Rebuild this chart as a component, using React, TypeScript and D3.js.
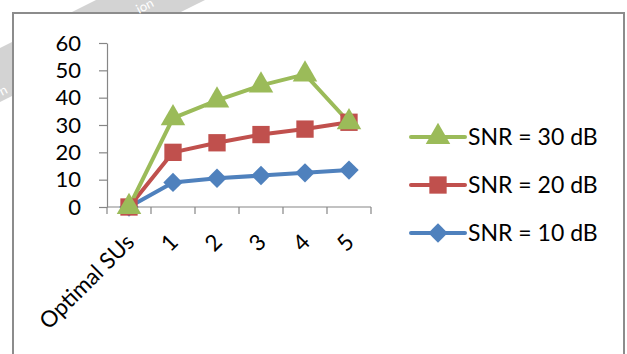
import { useEffect, useRef } from 'react'
import * as d3 from 'd3'

const categories = ['Optimal SUs', '1', '2', '3', '4', '5']
const snr30 = [0, 32.5, 39, 44.5, 48.5, 31]
const snr20 = [0, 20, 23.5, 26.5, 28.5, 31]
const snr10 = [0, 9, 10.5, 11.5, 12.5, 13.5]
const yTicks = [0, 10, 20, 30, 40, 50, 60]

const seriesList = [
  { name: 'SNR = 30 dB', values: snr30, color: '#9BBB59', marker: 'triangle' },
  { name: 'SNR = 20 dB', values: snr20, color: '#C0504D', marker: 'square' },
  { name: 'SNR = 10 dB', values: snr10, color: '#4F81BD', marker: 'diamond' },
]

const FONT = 'Lato, "Open Sans", sans-serif'

function markerPath(kind: string) {
  if (kind === 'triangle') return d3.symbol(d3.symbolTriangle, 260)()
  if (kind === 'square') return d3.symbol(d3.symbolSquare, 300)()
  return d3.symbol(d3.symbolDiamond2, 240)()
}

export default function App() {
  const svgRef = useRef<SVGSVGElement>(null)

  useEffect(() => {
    if (!svgRef.current) return
    const svg = d3.select(svgRef.current)
    svg.selectAll('*').remove()

    // watermark band behind the chart frame
    svg.append('polygon')
      .attr('points', '0,48 96,0 205,0 0,102')
      .attr('fill', '#d3d3d3')

    // chart frame
    svg.append('rect')
      .attr('x', 13).attr('y', 13)
      .attr('width', 611).attr('height', 360)
      .attr('fill', '#fff')
      .attr('stroke', '#8c8c8c')
      .attr('stroke-width', 2)

    // bits of watermark text peeking out around the frame
    svg.append('text')
      .attr('transform', 'translate(139,14) rotate(-27)')
      .attr('fill', '#fff')
      .style('font-family', FONT)
      .style('font-size', '13px')
      .text('ion')
    svg.append('text')
      .attr('transform', 'translate(2,96) rotate(-27)')
      .attr('fill', '#fff')
      .style('font-family', FONT)
      .style('font-size', '13px')
      .text('n')

    const x = d3.scaleBand().domain(categories).range([107, 371]).padding(0)
    const y = d3.scaleLinear().domain([0, 60]).range([207, 43])
    const cx = (c: string) => (x(c) as number) + x.bandwidth() / 2

    // y axis
    const yAxis = svg.append('g')
      .attr('transform', 'translate(107,0)')
      .call(d3.axisLeft(y).tickValues(yTicks).tickSize(8).tickSizeOuter(0).tickPadding(18))
    yAxis.select('.domain').attr('stroke', '#868686').attr('stroke-width', 1.2)
    yAxis.selectAll('.tick line').attr('stroke', '#868686').attr('stroke-width', 1.2)
    yAxis.selectAll('.tick text')
      .attr('fill', '#000')
      .style('font-family', FONT)
      .style('font-size', '22px')

    // x axis line and ticks at category boundaries
    const bounds = [...categories.map(c => x(c) as number), 371]
    const xg = svg.append('g')
    xg.append('line')
      .attr('x1', 107).attr('x2', 371)
      .attr('y1', y(0)).attr('y2', y(0))
      .attr('stroke', '#868686').attr('stroke-width', 1.2)
    xg.selectAll('.xt').data(bounds).enter().append('line')
      .attr('x1', d => d).attr('x2', d => d)
      .attr('y1', y(0)).attr('y2', y(0) + 7)
      .attr('stroke', '#868686').attr('stroke-width', 1.2)
    xg.selectAll('.xl').data(categories).enter().append('text')
      .attr('transform', d => `translate(${cx(d) + 1},${y(0) + 31}) rotate(-45)`)
      .attr('text-anchor', 'end')
      .attr('dy', '0.35em')
      .attr('fill', '#000')
      .style('font-family', FONT)
      .style('font-size', '22.5px')
      .text(d => d)

    // series lines and markers, blue first so green sits on top
    const line = d3.line<number>()
      .x((d, i) => cx(categories[i]))
      .y(d => y(d))
    const drawOrder = [...seriesList].reverse()
    drawOrder.forEach(s => {
      svg.append('path')
        .datum(s.values)
        .attr('d', line)
        .attr('fill', 'none')
        .attr('stroke', s.color)
        .attr('stroke-width', 4)
        .attr('stroke-linejoin', 'round')
    })
    drawOrder.forEach(s => {
      svg.selectAll(null)
        .data(s.values)
        .enter().append('path')
        .attr('d', markerPath(s.marker))
        .attr('transform', (d, i) => `translate(${cx(categories[i])},${y(d)})`)
        .attr('fill', s.color)
    })

    // legend
    const legend = svg.append('g')
    seriesList.forEach((s, i) => {
      const ly = 137 + i * 48
      legend.append('line')
        .attr('x1', 411).attr('x2', 465)
        .attr('y1', ly).attr('y2', ly)
        .attr('stroke', s.color)
        .attr('stroke-width', 4)
        .attr('stroke-linecap', 'round')
      legend.append('path')
        .attr('d', markerPath(s.marker))
        .attr('transform', `translate(438,${ly})`)
        .attr('fill', s.color)
      legend.append('text')
        .attr('x', 468).attr('y', ly)
        .attr('dy', '0.35em')
        .attr('fill', '#000')
        .style('font-family', FONT)
        .style('font-size', '23px')
        .text(s.name)
    })
  }, [])

  return (
    <svg
      ref={svgRef}
      width={627}
      height={354}
      style={{ position: 'absolute', left: 0, top: 0, background: '#fff' }}
    />
  )
}
